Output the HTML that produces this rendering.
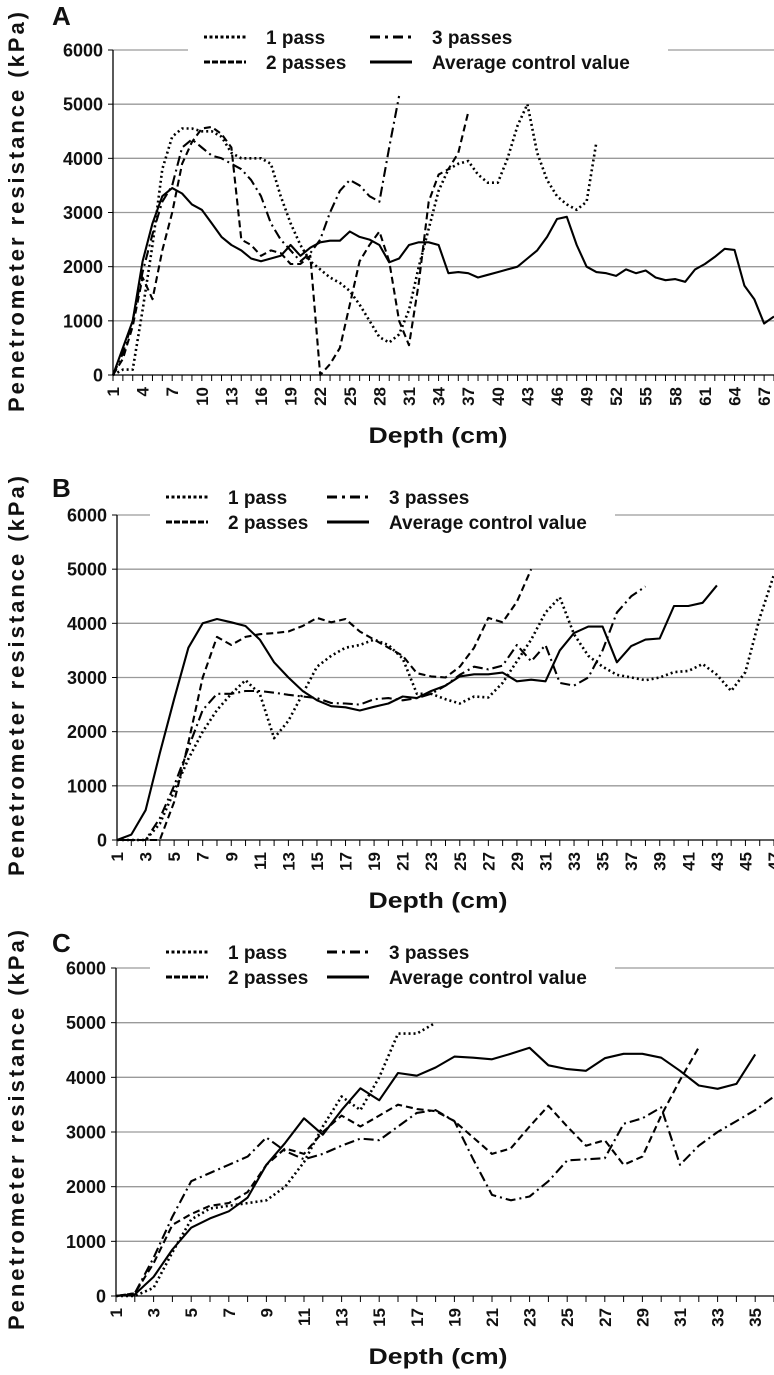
<!DOCTYPE html>
<html><head><meta charset="utf-8"><style>
html,body{margin:0;padding:0;background:#fff}
svg{display:block}
text{font-family:"Liberation Sans",sans-serif;font-weight:bold;fill:#111}
</style></head><body>
<svg id="fig" width="774" height="1375" viewBox="0 0 774 1375" xmlns="http://www.w3.org/2000/svg"></svg>
<script>
const yTicks = [0,1000,2000,3000,4000,5000,6000];
const legendLabels = ["1 pass","3 passes","2 passes","Average control value"];
// Panel A
const aControl = [0,500,1000,2100,2800,3300,3450,3350,3150,3050,2800,2550,2400,2300,2150,2100,2150,2200,2400,2200,2350,2450,2480,2480,2650,2550,2500,2400,2080,2150,2400,2450,2450,2400,1880,1900,1880,1800,1850,1900,1950,2000,2150,2300,2550,2880,2920,2400,2000,1900,1880,1830,1950,1880,1930,1800,1750,1770,1720,1950,2050,2180,2330,2310,1650,1400,950,1080];
const aPass1 = [0,100,100,1200,2400,3800,4400,4550,4550,4500,4500,4400,4100,4000,4000,4000,3900,3300,2800,2400,2100,1950,1800,1700,1550,1300,1000,700,600,750,1200,2000,2700,3400,3800,3900,3950,3700,3550,3550,4000,4600,5000,4100,3600,3300,3150,3050,3200,4300];
const aPass2 = [0,300,900,1800,1400,2300,3000,3900,4300,4550,4580,4450,4200,2500,2400,2200,2300,2250,2050,2050,2200,0,200,500,1300,2100,2400,2650,2100,1000,550,1700,3200,3700,3800,4100,4850];
const aPass3 = [0,400,1000,1900,2600,3200,3500,4200,4350,4200,4050,4000,3900,3800,3600,3300,2800,2500,2300,2100,2250,2500,3000,3400,3600,3500,3300,3200,4200,5150];
// Panel B
const bControl = [0,100,550,1600,2600,3550,4000,4080,4020,3950,3700,3280,3000,2750,2580,2470,2450,2390,2460,2520,2650,2620,2750,2850,3020,3060,3060,3090,2930,2960,2930,3500,3820,3940,3940,3280,3580,3700,3720,4320,4320,4380,4700];
const bPass1 = [0,0,0,300,900,1500,2000,2400,2700,2950,2700,1880,2200,2700,3200,3400,3550,3600,3700,3600,3350,2700,2700,2600,2520,2650,2630,2900,3300,3700,4200,4480,3800,3400,3200,3050,3000,2950,3000,3100,3120,3250,3050,2750,3100,4100,4900];
const bPass2 = [0,0,0,0,700,1800,3000,3750,3600,3750,3800,3820,3850,3950,4100,4020,4080,3850,3700,3550,3400,3080,3020,3000,3200,3550,4100,4020,4400,5000];
const bPass3 = [0,0,0,400,1000,1700,2400,2700,2700,2750,2750,2720,2680,2650,2620,2530,2520,2500,2600,2620,2580,2620,2700,2850,3050,3200,3150,3220,3600,3300,3600,2900,2850,3000,3500,4200,4500,4680];
// Panel C
const cControl = [0,30,350,850,1250,1420,1550,1800,2400,2800,3250,2950,3400,3800,3580,4080,4030,4180,4380,4360,4330,4430,4540,4220,4150,4120,4350,4430,4430,4360,4120,3850,3790,3880,4420];
const cPass1 = [0,0,150,800,1400,1600,1650,1700,1750,2000,2450,3100,3650,3400,4000,4800,4800,5000];
const cPass2 = [0,50,600,1300,1500,1650,1700,1900,2400,2700,2600,3000,3300,3100,3300,3500,3420,3380,3200,2900,2600,2700,3100,3480,3100,2750,2850,2400,2550,3300,3950,4550];
const cPass3 = [0,50,700,1450,2100,2250,2400,2550,2900,2650,2500,2600,2750,2880,2850,3100,3350,3400,3200,2500,1850,1750,1820,2100,2480,2500,2520,3150,3250,3450,2400,2750,3000,3200,3400,3650];
const aDepthCount = 68, bDepthCount = 47, cDepthCount = 36;

const NS="http://www.w3.org/2000/svg";
const svg=document.getElementById('fig');
function mk(tag,attrs,parent){const e=document.createElementNS(NS,tag);for(const k in attrs)e.setAttribute(k,attrs[k]);(parent||svg).appendChild(e);return e;}
const styles={pass1:"2,3",pass2:"7,4",pass3:"10,4,2,4",control:""};

function panel(p){
  const g=mk('g',{});
  
  
  const n=p.count;
  const x=i=>p.left+(i)*(p.right-p.left)/(n-1);
  const y=v=>p.y0-(v/6000)*(p.y0-p.y6);
  yTicks.forEach(t=>{
    if(t>0){const gl=mk('line',{x1:p.left,x2:p.right,y1:y(t),y2:y(t),stroke:'#9a9a9a','stroke-width':1.3},g);
      
      }
    const tl=mk('text',{x:p.left-10,y:y(t)+6.5,'text-anchor':'end','font-size':18},g);
    
    
    tl.textContent=t;
    const tk=mk('line',{x1:p.left-5,x2:p.left,y1:y(t),y2:y(t),stroke:'#000','stroke-width':1},g);
    
    
  });
  const ya=mk('line',{x1:p.left,x2:p.left,y1:p.y6,y2:p.y0,stroke:'#000','stroke-width':1.3},g);
  
  
  const xa=mk('line',{x1:p.left,x2:p.right,y1:p.y0,y2:p.y0,stroke:'#000','stroke-width':1.3},g);
  
  
  for(let i=0;i<n;i++){
    const tk=mk('line',{x1:x(i),x2:x(i),y1:p.y0,y2:p.y0+6,stroke:'#000','stroke-width':1},g);
    
    
    if(i%p.step===0){
      const tl=mk('text',{transform:`translate(${x(i)+6},${p.y0+12}) rotate(-90)`,'text-anchor':'end','font-size':17},g);
      
      
      tl.textContent=i+1;
    }
  }
  p.series.forEach(s=>{
    const d=s.vals.map((v,i)=>(i?'L':'M')+x(i).toFixed(1)+','+y(v).toFixed(1)).join(' ');
    const pa=mk('path',{d:d,fill:'none',stroke:'#000','stroke-width':s.key==='pass1'?2.6:2.1,'stroke-dasharray':styles[s.key],'stroke-linejoin':'round'},g);
    
    
  });
  const L=p.legend;
  const lb=mk('rect',{x:L.x,y:L.y,width:L.w,height:52,fill:'#fff'},g);
  
  
  const ent=[["pass1",0,0],["pass3",1,0],["pass2",0,1],["control",1,1]];
  ent.forEach((e,k)=>{
    const sx=L.x+(e[1]?L.c2:16), sy=L.y+12+e[2]*25;
    const ln=mk('line',{x1:sx,x2:sx+42,y1:sy,y2:sy,stroke:'#000','stroke-width':3,'stroke-dasharray':e[0]==='pass3'?"10,5,3,5":(e[0]==='pass2'?"6,2":(e[0]==='pass1'?"3,2.5":""))},g);
    
    
    const t=mk('text',{x:sx+62,y:sy+7,'font-size':19},g);
    
    
    t.textContent=legendLabels[k];
  });
  const pl=mk('text',{x:p.letterX,y:p.letterY,'font-size':26},g);
  
  
  pl.textContent=p.id;
  const yt=mk('text',{transform:`translate(24,${p.titleY}) rotate(-90)`,'text-anchor':'middle','font-size':22,textLength:400,lengthAdjust:'spacing'},g);
  
  
  yt.textContent='Penetrometer resistance (kPa)';
  const xt=mk('text',{x:438,y:p.xtY,'text-anchor':'middle','font-size':22,textLength:139,lengthAdjust:'spacingAndGlyphs'},g);
  
  
  xt.textContent='Depth (cm)';
}
panel({id:'A',count:aDepthCount,step:3,left:113,right:774,y0:375,y6:50,letterX:52,letterY:25,titleY:212,xtY:443,
  legend:{x:188,y:25,w:480,c2:182},
  series:[{key:'control',vals:aControl},{key:'pass1',vals:aPass1},{key:'pass2',vals:aPass2},{key:'pass3',vals:aPass3}]});
panel({id:'B',count:bDepthCount,step:2,left:117,right:774,y0:840,y6:515,letterX:52,letterY:497,titleY:676,xtY:908,
  legend:{x:150,y:485,w:465,c2:177},
  series:[{key:'control',vals:bControl},{key:'pass1',vals:bPass1},{key:'pass2',vals:bPass2},{key:'pass3',vals:bPass3}]});
panel({id:'C',count:cDepthCount,step:2,left:116,right:774,y0:1296,y6:968,letterX:52,letterY:952,titleY:1130,xtY:1364,
  legend:{x:150,y:940,w:465,c2:177},
  series:[{key:'control',vals:cControl},{key:'pass1',vals:cPass1},{key:'pass2',vals:cPass2},{key:'pass3',vals:cPass3}]});
</script>
</body></html>
